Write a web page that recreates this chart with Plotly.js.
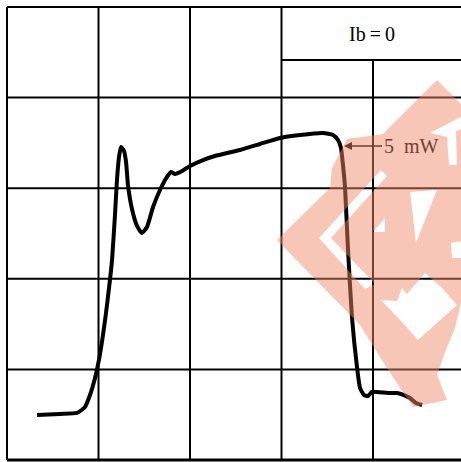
<!DOCTYPE html>
<html><head><meta charset="utf-8">
<script src="https://cdn.plot.ly/plotly-3.0.1.min.js"></script>
<style>html,body{margin:0;padding:0;background:#fff}#chart{width:461px;height:462px}</style>
</head><body><div id="chart"></div>
<script>
// Curve, in grid divisions (x: time div, y: power div)
const timeDiv = [0.328,0.579,0.765,0.852,0.907,0.962,1.005,1.049,1.082,1.115,1.148,1.180,1.202,1.224,1.246,1.279,1.301,1.322,1.366,1.421,1.475,1.530,1.596,1.672,1.749,1.792,1.836,1.913,2.000,2.142,2.273,2.546,2.765,2.984,3.202,3.454,3.563,3.617,3.650,3.672,3.694,3.727,3.770,3.825,3.858,3.902,3.945,3.989,4.044,4.186,4.262,4.339,4.404,4.470,4.536];
const powerDiv = [0.497,0.508,0.519,0.585,0.717,0.905,1.104,1.380,1.623,1.898,2.208,2.704,3.091,3.344,3.455,3.411,3.289,3.035,2.770,2.583,2.506,2.572,2.792,2.980,3.124,3.179,3.157,3.190,3.245,3.311,3.355,3.422,3.488,3.554,3.587,3.609,3.587,3.532,3.444,3.256,3.013,2.318,1.578,1.026,0.795,0.717,0.706,0.751,0.751,0.740,0.740,0.717,0.684,0.629,0.607];
const headerLabel = 'Ib\u2009=\u20090';
const markerLabel = '5\u2002mW';
const markerLevel = 3.466;   // level pointed at by the 5 mW arrow (div)

// Geometry of the scanned sheet (pixels -> divisions)
const PXX = 91.5, PXY = 90.6;
const X = px => (px - 7) / PXX;
const Y = py => (460 - py) / PXY;

// Watermark outline (stamp), in picture pixels
const wmOuter = [[437,80],[472,115],[472,298],[461,302],[455,328],[445,352],[437,375],[447,400],[413,407],[385,365],[360,325],[277,240],[330,188],[332,168],[347,139],[383,134]];
const wmHoles = [
  [[381,170],[319,238],[365,289],[375,284],[331,238],[387,176]],
  [[385,218],[385,232],[373,232]],
  [[410,192],[437,190],[416,243]],
  [[430,133],[468,113],[468,127],[456,131],[457,165],[449,165],[447,137]],
  [[451,243],[468,240],[468,258],[452,258]],
  [[381,300],[397,301],[402,288],[407,294],[425,273],[442,288],[457,305],[418,340],[400,320]]
];
function poly(pts){return 'M' + pts.map(p => X(p[0]).toFixed(4)+','+Y(p[1]).toFixed(4)).join(' L') + ' Z';}
const wmPath = [wmOuter].concat(wmHoles).map(poly).join(' ');

const brown = 'rgb(112,62,50)';
const shapes = [];
const xTop = X(470);
const yHeader = Y(60);
[0,1,2,3].forEach(v => shapes.push({type:'line', layer:'below', x0:v, x1:v, y0:0, y1:5, line:{color:'#000', width:2}}));
shapes.push({type:'line', layer:'below', x0:4, x1:4, y0:0, y1:yHeader, line:{color:'#000', width:2}});
[1,2,3,4,5].forEach(v => shapes.push({type:'line', layer:'below', x0:0, x1:xTop, y0:v, y1:v, line:{color:'#000', width:2}}));
shapes.push({type:'line', layer:'below', x0:0, x1:xTop, y0:0, y1:0, line:{color:'#000', width:3}});
shapes.push({type:'line', layer:'below', x0:3, x1:xTop, y0:yHeader, y1:yHeader, line:{color:'#000', width:2}});
shapes.push({type:'path', layer:'above', path:wmPath, fillrule:'evenodd', fillcolor:'rgb(240,135,104)', opacity:0.48, line:{width:0}});

const trace = {x: timeDiv, y: powerDiv, type:'scatter', mode:'lines',
  line:{color:'#000', width:4, shape:'spline', smoothing:0.5}, hoverinfo:'skip'};

const layout = {
  width:461, height:462, margin:{l:0,r:0,t:0,b:0},
  paper_bgcolor:'#fff', plot_bgcolor:'#fff', showlegend:false,
  xaxis:{range:[X(0), X(461)], visible:false, fixedrange:true},
  yaxis:{range:[Y(462), Y(0)], visible:false, fixedrange:true},
  shapes: shapes,
  annotations:[
    {x:X(372), y:Y(34), xref:'x', yref:'y', text:headerLabel, showarrow:false,
     font:{family:'Liberation Serif, serif', size:20, color:'#000'}},
    {x:X(344), y:markerLevel, ax:X(382), ay:markerLevel, axref:'x', ayref:'y', xref:'x', yref:'y',
     text:markerLabel, xanchor:'left', showarrow:true, arrowhead:2, arrowsize:1, arrowwidth:1.6,
     arrowcolor:brown, standoff:0, font:{family:'Liberation Serif, serif', size:20, color:brown}}
  ]
};
Plotly.newPlot('chart', [trace], layout, {staticPlot:true, displayModeBar:false});
</script></body></html>
